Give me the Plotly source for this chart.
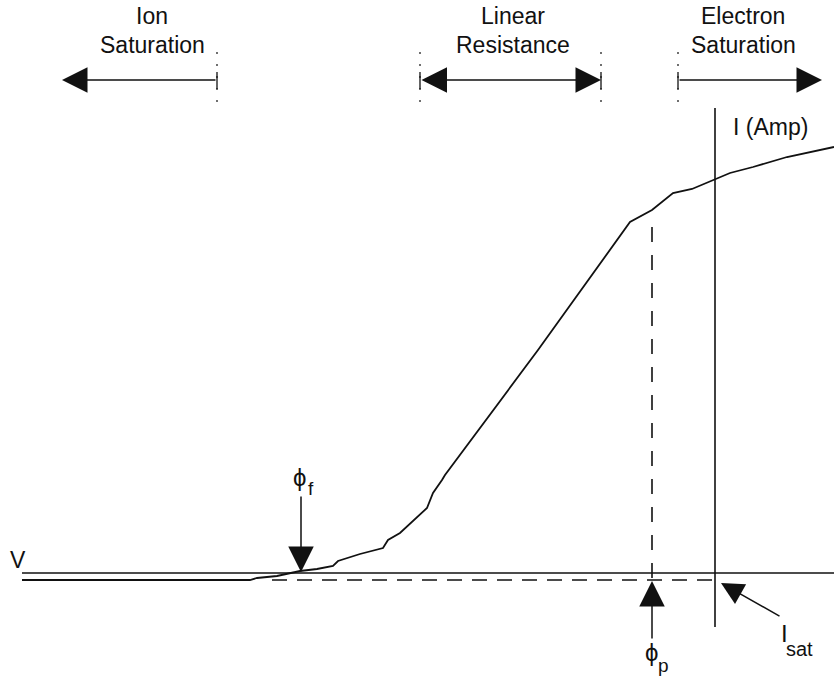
import plotly.graph_objects as go

# Probe characteristic (schematic units: V to the right, I upward)
V_curve = [22, 250, 257, 277, 300, 317, 333, 338, 360, 383, 388, 400, 427, 433, 442, 445,
           538, 630, 652, 673, 692, 717, 730, 753, 787, 834]
I_curve = [100, 100, 102, 104, 109, 111, 114, 119, 126, 132, 140, 147, 172, 187, 200, 205,
           330, 458, 470, 487, 491, 502, 507, 513, 523, 533]

V_axis_level = 107          # I = 0 line
I_axis_pos = 715            # V position of the current axis
dashed_level = 100          # saturation baseline
phi_f = 301
phi_p = 652
phi_p_top = 453

FONT = "Liberation Sans, Arial, Helvetica, sans-serif"
BLACK = "#111111"

fig = go.Figure()

# I-V curve
fig.add_trace(go.Scatter(x=V_curve, y=I_curve, mode="lines",
                         line=dict(color=BLACK, width=1.8), hoverinfo="skip"))
# V axis (horizontal)
fig.add_trace(go.Scatter(x=[22, 834], y=[V_axis_level, V_axis_level], mode="lines",
                         line=dict(color=BLACK, width=1.4), hoverinfo="skip"))
# I axis (vertical)
fig.add_trace(go.Scatter(x=[I_axis_pos, I_axis_pos], y=[53, 572], mode="lines",
                         line=dict(color=BLACK, width=1.6), hoverinfo="skip"))
# dashed horizontal
fig.add_trace(go.Scatter(x=[272, I_axis_pos], y=[dashed_level, dashed_level], mode="lines",
                         line=dict(color=BLACK, width=1.6, dash="15px,10px"), hoverinfo="skip"))
# dashed vertical at phi_p
fig.add_trace(go.Scatter(x=[phi_p, phi_p], y=[phi_p_top, dashed_level], mode="lines",
                         line=dict(color=BLACK, width=1.6, dash="15px,13px"), hoverinfo="skip"))

# region markers at top
top_y = 600
tick_pos = [217, 420, 601, 678]
for tx in tick_pos:
    fig.add_trace(go.Scatter(x=[tx, tx], y=[578, 635], mode="lines",
                             line=dict(color=BLACK, width=1.2, dash="2px,10px"), hoverinfo="skip"))
    fig.add_trace(go.Scatter(x=[tx, tx], y=[591, 608], mode="lines",
                             line=dict(color=BLACK, width=1.3), hoverinfo="skip"))

ann = []
def arrow(x, y, ax, ay, both=False, size=3.4, width=1.5):
    d = dict(x=x, y=y, ax=ax, ay=ay, xref="x", yref="y", axref="x", ayref="y",
             text="", showarrow=True, arrowhead=2, arrowsize=size, arrowwidth=width,
             arrowcolor=BLACK)
    if both:
        d.update(arrowside="end+start", startarrowhead=2, startarrowsize=size)
    ann.append(d)

arrow(62, top_y, 217, top_y)
arrow(601, top_y, 420, top_y, both=True)
arrow(822, top_y, 678, top_y)
arrow(phi_f, 108, phi_f, 185)
arrow(phi_p, 99, phi_p, 40)
arrow(721, 97, 781, 63, size=3.0)

def text(x, y, s, size=23, xanchor="center", yanchor="middle"):
    ann.append(dict(x=x, y=y, xref="x", yref="y", text=s, showarrow=False,
                    xanchor=xanchor, yanchor=yanchor,
                    font=dict(family=FONT, size=size, color=BLACK)))

text(152, 664, "Ion")
text(152, 635, "Saturation")
text(513, 664, "Linear")
text(513, 635, "Resistance")
text(743, 664, "Electron")
text(743, 635, "Saturation")
text(731, 553, "I (Amp)", xanchor="left")
text(18, 120, "V")
# phi_f
text(299, 203, "ϕ", size=24)
text(311, 192, "f", size=19)
# phi_p
text(651, 28, "ϕ", size=24)
text(663, 15, "p", size=19)
# I_sat
text(784, 47, "I", size=24)
text(799, 31, "sat", size=20)

fig.update_layout(
    width=834, height=680, margin=dict(l=0, r=0, t=0, b=0),
    paper_bgcolor="white", plot_bgcolor="white", showlegend=False,
    xaxis=dict(range=[0, 834], visible=False, fixedrange=True),
    yaxis=dict(range=[0, 680], visible=False, fixedrange=True),
    annotations=ann,
)
fig.write_html("out.html")
